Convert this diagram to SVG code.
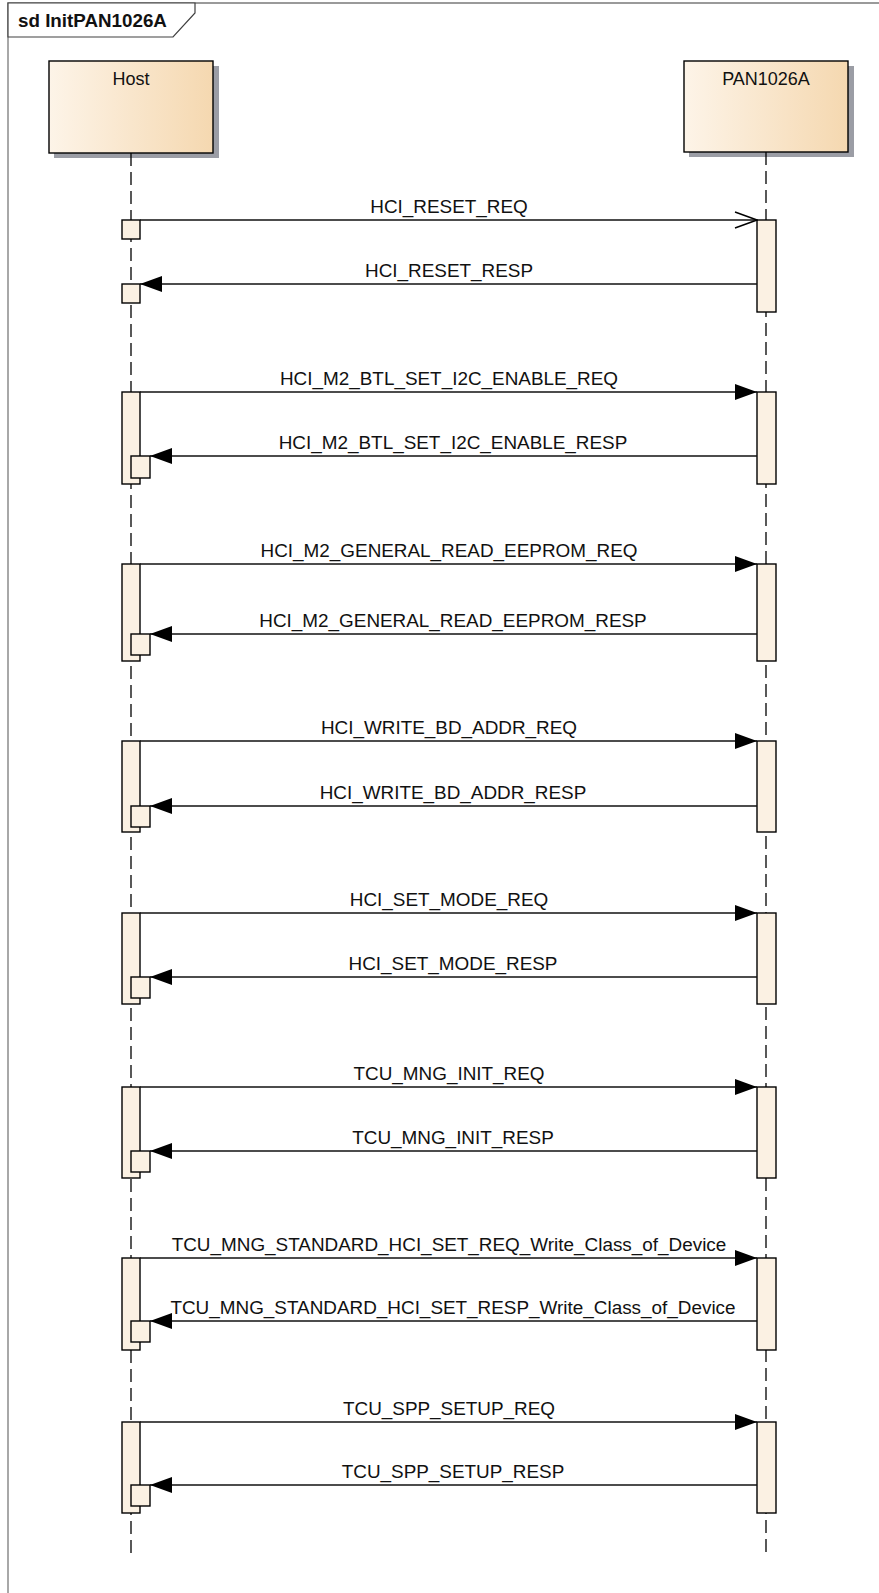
<svg xmlns="http://www.w3.org/2000/svg" width="879" height="1593" viewBox="0 0 879 1593">
<defs>
<linearGradient id="head" x1="0" y1="0" x2="1" y2="0">
<stop offset="0" stop-color="#FDF4E8"/>
<stop offset="1" stop-color="#F5D8B0"/>
</linearGradient>
<marker id="fill" viewBox="0 0 22 16" refX="22" refY="8" markerWidth="22" markerHeight="16" markerUnits="userSpaceOnUse" orient="auto">
<path d="M0,0 L22,8 L0,16 Z" fill="#000"/>
</marker>
<marker id="open" viewBox="0 0 24 18" refX="23" refY="9" markerWidth="24" markerHeight="18" markerUnits="userSpaceOnUse" orient="auto">
<path d="M1,1 L23,9 L1,17" fill="none" stroke="#000" stroke-width="1.4"/>
</marker>
</defs>
<style>
.frame{fill:none;stroke:#7a7a7a;stroke-width:1.3}
.lbl{fill:#fff;stroke:#404040;stroke-width:1.2}
.title{font-family:"Liberation Sans",Arial,sans-serif;font-weight:bold;font-size:18.8px;fill:#111}
.hd{fill:url(#head);stroke:#000;stroke-width:1.4}
.sh{fill:#9b9da5}
.ht{font-family:"Liberation Sans",Arial,sans-serif;font-size:18px;fill:#111;text-anchor:middle}
.life{stroke:#000;stroke-width:1.3;stroke-dasharray:13,6;fill:none}
.act{fill:#FBF1E3;stroke:#000;stroke-width:1.4}
.msg{stroke:#111;stroke-width:1.3;fill:none}
.req{marker-end:url(#fill)}
.m{font-family:"Liberation Sans",Arial,sans-serif;font-size:18.9px;fill:#111;text-anchor:middle}
</style>
<rect x="0" y="0" width="879" height="1593" fill="#fff"/>
<path class="frame" d="M8,1593 V3 H879"/>
<g id="frame-label">
<path class="lbl" d="M8,3 H195 V13 L173,37 H8 Z"/>
<text class="title" x="18" y="27">sd InitPAN1026A</text>
</g>
<g id="host">
<rect class="sh" x="54" y="66" width="165" height="92"/>
<rect class="hd" x="49" y="61" width="164" height="92"/>
<text class="ht" x="131" y="85">Host</text>
<line class="life" x1="131" y1="153" x2="131" y2="1553"/>
</g>
<g id="pan1026a">
<rect class="sh" x="689" y="66" width="165" height="91"/>
<rect class="hd" x="684" y="61" width="164" height="91"/>
<text class="ht" x="766" y="85">PAN1026A</text>
<line class="life" x1="766" y1="152" x2="766" y2="1553"/>
</g>
<g id="activations">
<rect class="act" x="122" y="220" width="18" height="19"/>
<rect class="act" x="122" y="284" width="18" height="19"/>
<rect class="act" x="757" y="220" width="19" height="92"/>
<rect class="act" x="122" y="392" width="18" height="92"/>
<rect class="act" x="131" y="456" width="19" height="22"/>
<rect class="act" x="757" y="392" width="19" height="92"/>
<rect class="act" x="122" y="564" width="18" height="97"/>
<rect class="act" x="131" y="634" width="19" height="21"/>
<rect class="act" x="757" y="564" width="19" height="97"/>
<rect class="act" x="122" y="741" width="18" height="91"/>
<rect class="act" x="131" y="806" width="19" height="21"/>
<rect class="act" x="757" y="741" width="19" height="91"/>
<rect class="act" x="122" y="913" width="18" height="91"/>
<rect class="act" x="131" y="977" width="19" height="21"/>
<rect class="act" x="757" y="913" width="19" height="91"/>
<rect class="act" x="122" y="1087" width="18" height="91"/>
<rect class="act" x="131" y="1151" width="19" height="21"/>
<rect class="act" x="757" y="1087" width="19" height="91"/>
<rect class="act" x="122" y="1258" width="18" height="92"/>
<rect class="act" x="131" y="1321" width="19" height="21"/>
<rect class="act" x="757" y="1258" width="19" height="92"/>
<rect class="act" x="122" y="1422" width="18" height="91"/>
<rect class="act" x="131" y="1485" width="19" height="21"/>
<rect class="act" x="757" y="1422" width="19" height="91"/>
</g>
<g id="connectors">
<line class="msg" x1="140" y1="220" x2="757" y2="220" marker-end="url(#open)"/>
<line class="msg req" x1="757" y1="284" x2="140" y2="284"/>
<line class="msg req" x1="140" y1="392" x2="757" y2="392"/>
<line class="msg req" x1="757" y1="456" x2="150" y2="456"/>
<line class="msg req" x1="140" y1="564" x2="757" y2="564"/>
<line class="msg req" x1="757" y1="634" x2="150" y2="634"/>
<line class="msg req" x1="140" y1="741" x2="757" y2="741"/>
<line class="msg req" x1="757" y1="806" x2="150" y2="806"/>
<line class="msg req" x1="140" y1="913" x2="757" y2="913"/>
<line class="msg req" x1="757" y1="977" x2="150" y2="977"/>
<line class="msg req" x1="140" y1="1087" x2="757" y2="1087"/>
<line class="msg req" x1="757" y1="1151" x2="150" y2="1151"/>
<line class="msg req" x1="140" y1="1258" x2="757" y2="1258"/>
<line class="msg req" x1="757" y1="1321" x2="150" y2="1321"/>
<line class="msg req" x1="140" y1="1422" x2="757" y2="1422"/>
<line class="msg req" x1="757" y1="1485" x2="150" y2="1485"/>
<text class="m" x="449" y="213">HCI_RESET_REQ</text>
<text class="m" x="449" y="277">HCI_RESET_RESP</text>
<text class="m" x="449" y="385">HCI_M2_BTL_SET_I2C_ENABLE_REQ</text>
<text class="m" x="453" y="449">HCI_M2_BTL_SET_I2C_ENABLE_RESP</text>
<text class="m" x="449" y="557">HCI_M2_GENERAL_READ_EEPROM_REQ</text>
<text class="m" x="453" y="627">HCI_M2_GENERAL_READ_EEPROM_RESP</text>
<text class="m" x="449" y="734">HCI_WRITE_BD_ADDR_REQ</text>
<text class="m" x="453" y="799">HCI_WRITE_BD_ADDR_RESP</text>
<text class="m" x="449" y="906">HCI_SET_MODE_REQ</text>
<text class="m" x="453" y="970">HCI_SET_MODE_RESP</text>
<text class="m" x="449" y="1080">TCU_MNG_INIT_REQ</text>
<text class="m" x="453" y="1144">TCU_MNG_INIT_RESP</text>
<text class="m" x="449" y="1251">TCU_MNG_STANDARD_HCI_SET_REQ_Write_Class_of_Device</text>
<text class="m" x="453" y="1314">TCU_MNG_STANDARD_HCI_SET_RESP_Write_Class_of_Device</text>
<text class="m" x="449" y="1415">TCU_SPP_SETUP_REQ</text>
<text class="m" x="453" y="1478">TCU_SPP_SETUP_RESP</text>
</g>
</svg>
